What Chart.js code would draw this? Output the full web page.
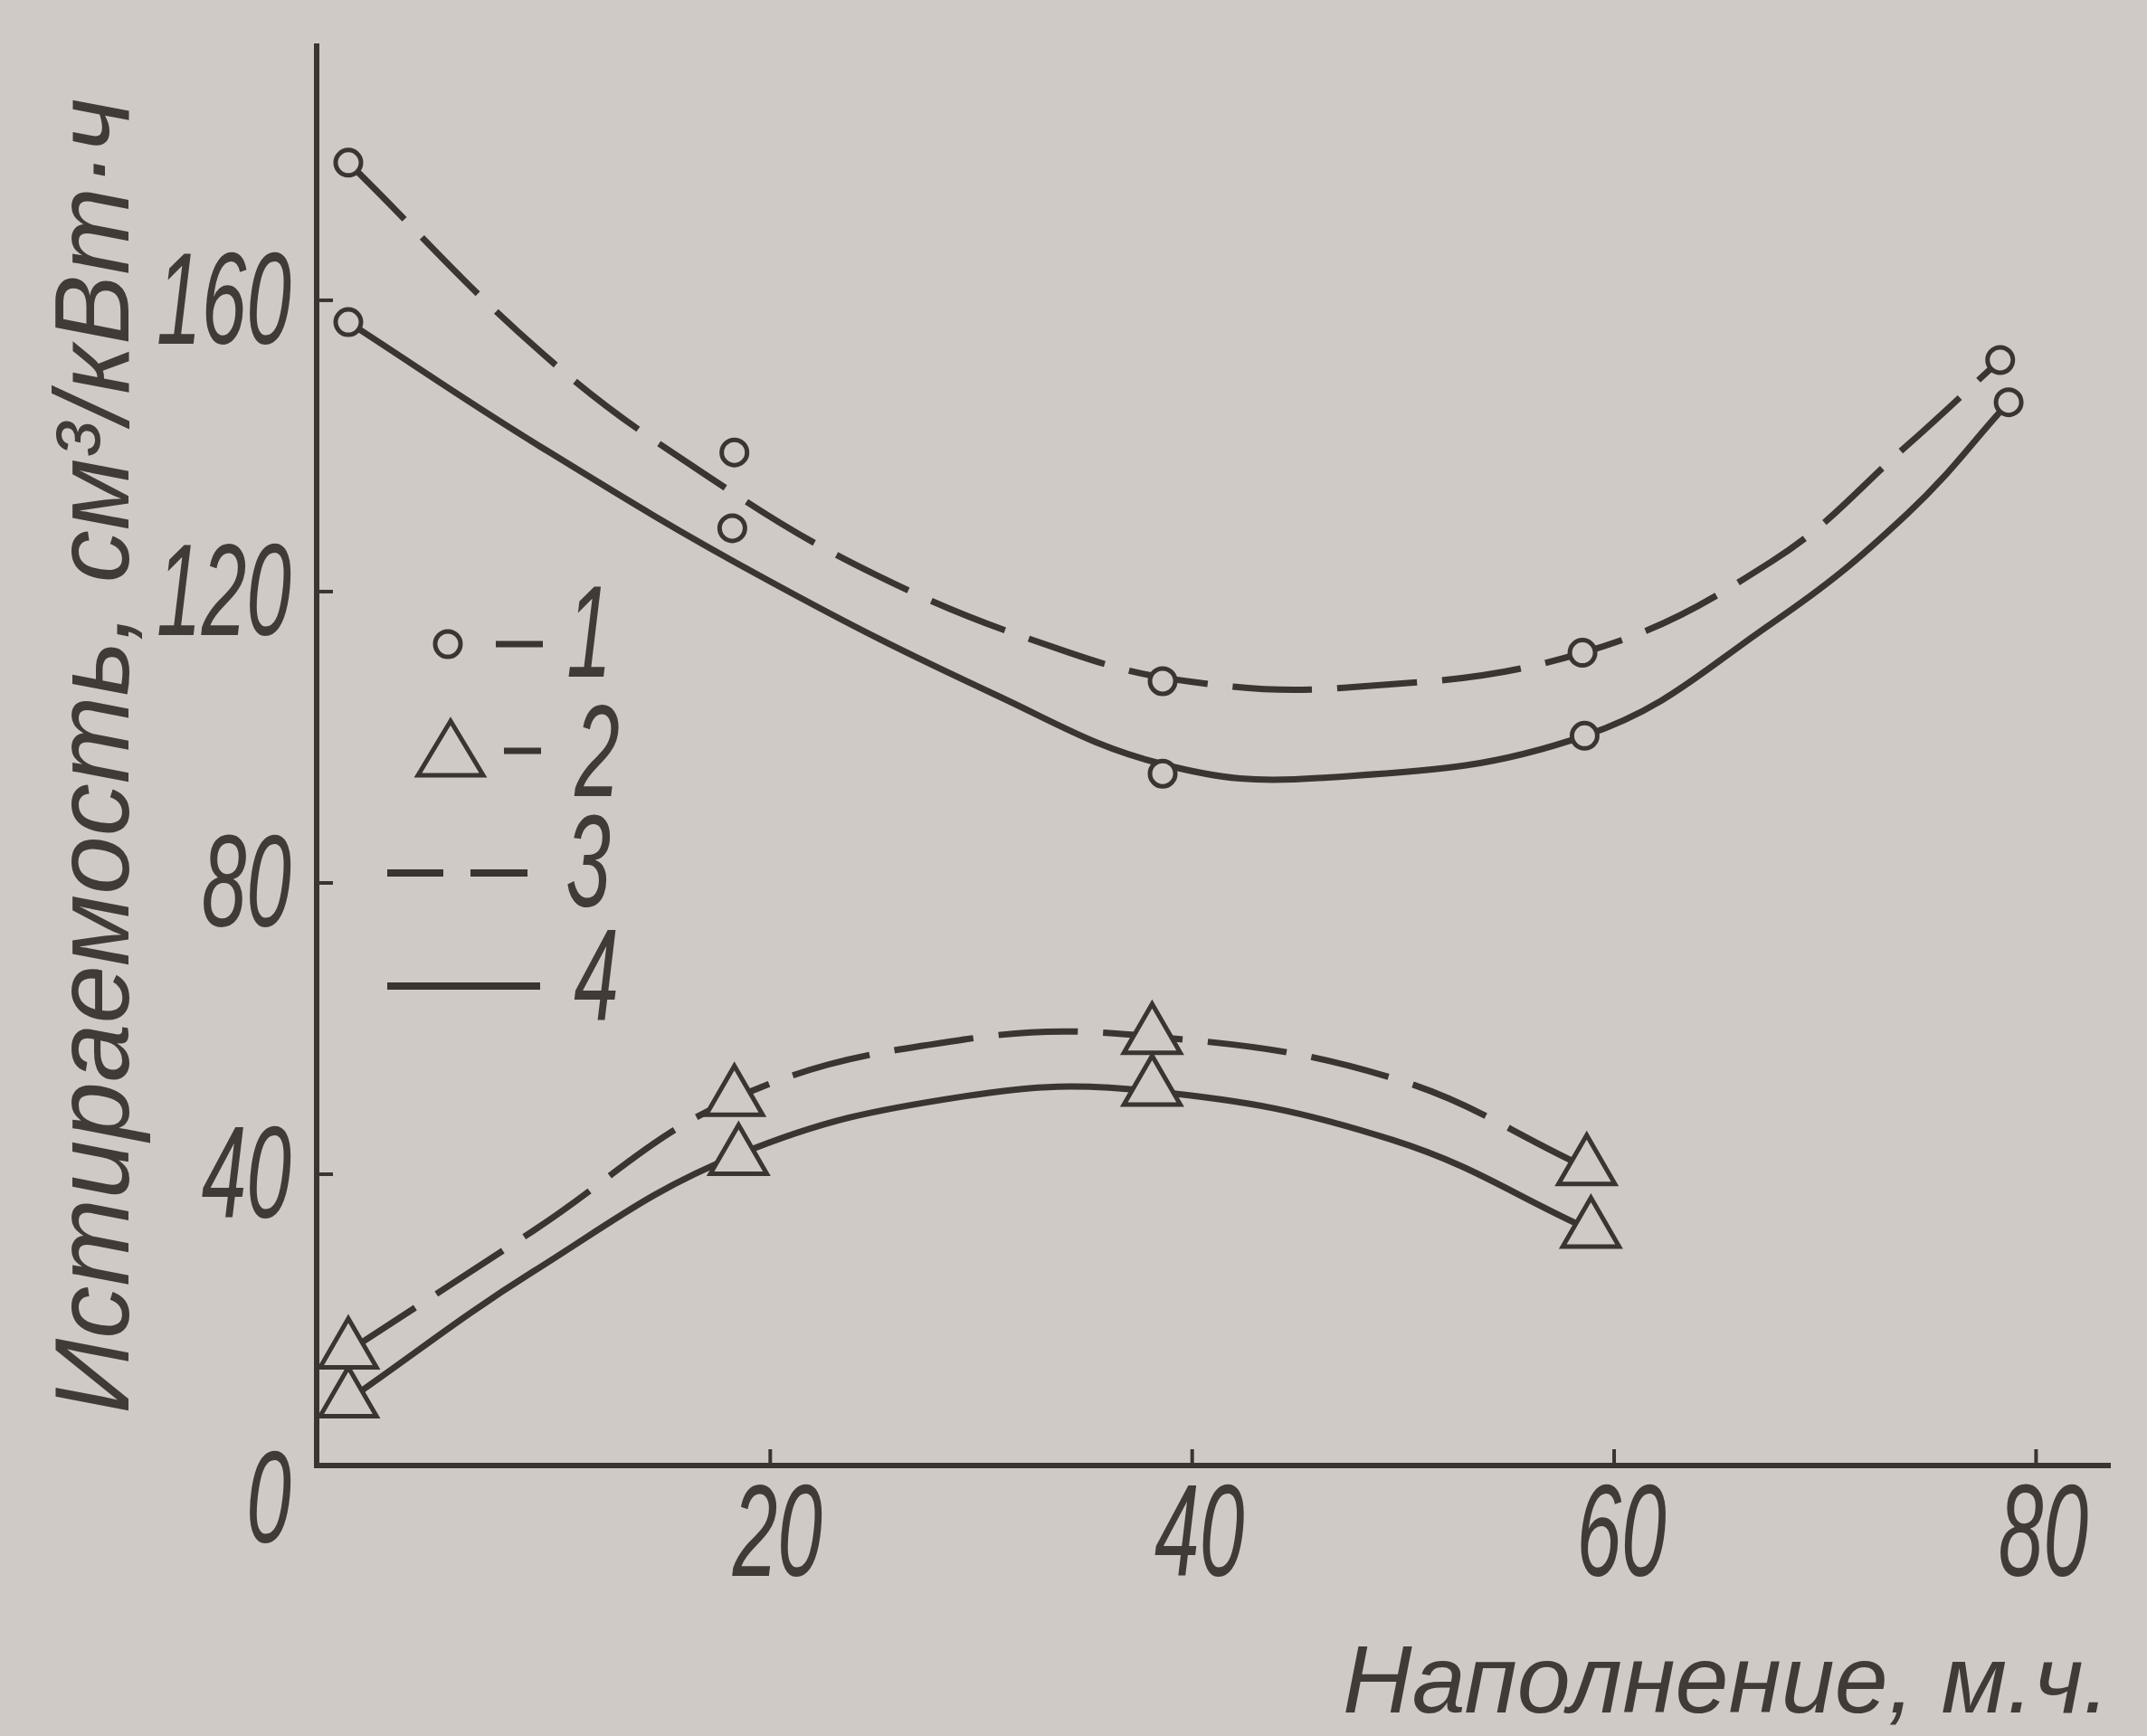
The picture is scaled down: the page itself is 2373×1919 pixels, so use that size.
<!DOCTYPE html>
<html lang="ru">
<head>
  <meta charset="UTF-8" />
  <title>Истираемость</title>
  <script src="https://cdn.jsdelivr.net/npm/chart.js"></script>
  <style>
    html, body { margin: 0; padding: 0; background: #cfcac5; overflow: hidden; }
    canvas { display: block; }
  </style>
</head>
<body>
  <canvas id="chart" width="2373" height="1919"></canvas>

  <script>
    // measured points (1 = circles, 2 = triangles; 3 = dashed curve, 4 = solid curve)
    const circX3 = [0, 18.3, 38.6, 58.5, 78.3];
    const circY3 = [178.9, 139.1, 107.7, 111.6, 151.8];
    const circX4 = [0, 18.2, 38.6, 58.6, 78.7];
    const circY4 = [157.0, 128.7, 95.0, 100.2, 146.0];
    const triX3 = [0, 18.3, 38.1, 58.7];
    const triY3 = [15.7, 50.4, 58.9, 40.9];
    const triX4 = [0, 18.5, 38.1, 58.9];
    const triY4 = [9.0, 42.3, 51.8, 32.3];

    // the drawn curves
    const upperDashX = [0, 9.2, 16.8, 25, 34.2, 40, 47.2, 58.5, 67.5, 73.9, 78.3];
    const upperDashY = [178.9, 152.7, 136.3, 122.3, 111.6, 107.6, 106.8, 111.6, 124.2, 140.1, 151.8];
    const upperSolidX = [0, 9, 19.8, 30.7, 38.6, 46, 58.6, 67.5, 73.9, 78.7];
    const upperSolidY = [157.0, 140.1, 121.7, 105.8, 96.3, 94.4, 100.2, 115.7, 130.7, 146.0];
    const lowerDashX = [0, 8.8, 18.3, 29.2, 38.1, 49.5, 58.7];
    const lowerDashY = [15.7, 32.3, 50.4, 58.5, 58.9, 53.2, 40.9];
    const lowerSolidX = [0, 8.8, 18.5, 29.2, 38.1, 49.5, 58.9];
    const lowerSolidY = [9.0, 26.7, 42.7, 50.7, 51.4, 44.7, 32.3];

    const xTicks = [20, 40, 60, 80];
    const yTicks = [0, 40, 80, 120, 160];

    const INK = '#3a3531';
    const TEXT = '#403b37';
    const PAPER = '#cfcac5';
    const DIGITS = 'italic 144px "Liberation Sans"';

    const pts = (xs, ys) => xs.map((v, i) => ({ x: v, y: ys[i] }));

    const curve = (xs, ys, dashed) => ({
      data: pts(xs, ys),
      showLine: true,
      borderColor: INK,
      borderWidth: 7,
      borderDash: dashed ? [88, 28] : [],
      borderCapStyle: 'butt',
      tension: 0.4,
      pointRadius: 0,
      order: 1
    });

    const marks = (xs, ys, style, r) => ({
      data: pts(xs, ys),
      showLine: false,
      pointStyle: style,
      pointRadius: r,
      pointBorderWidth: 5,
      pointBorderColor: INK,
      pointBackgroundColor: PAPER,
      order: 0
    });

    // draws a horizontally condensed italic number, like the drafting font
    function digits(ctx, text, x, y, align) {
      ctx.save();
      ctx.translate(x, y);
      ctx.scale(0.62, 1);
      ctx.textAlign = align;
      ctx.fillText(text, 0, 0);
      ctx.restore();
    }

    const decor = {
      id: 'decor',
      afterDraw(chart) {
        const { ctx, chartArea: a, scales: { x, y } } = chart;
        ctx.save();
        ctx.strokeStyle = INK;
        ctx.fillStyle = TEXT;

        // tick marks point into the plot
        ctx.lineWidth = 4;
        x.ticks.forEach(t => {
          const px = x.getPixelForValue(t.value);
          ctx.beginPath(); ctx.moveTo(px, a.bottom); ctx.lineTo(px, a.bottom - 18); ctx.stroke();
        });
        y.ticks.forEach(t => {
          if (t.value === 0) return;
          const py = y.getPixelForValue(t.value);
          ctx.beginPath(); ctx.moveTo(a.left, py); ctx.lineTo(a.left + 18, py); ctx.stroke();
        });

        ctx.font = DIGITS;
        ctx.textBaseline = 'middle';
        y.ticks.forEach(t => {
          const py = y.getPixelForValue(t.value) + (t.value === 0 ? 45 : 8);
          digits(ctx, String(t.value), a.left - 28, py, 'right');
        });
        x.ticks.forEach(t => {
          digits(ctx, String(t.value), x.getPixelForValue(t.value) + 8, a.bottom + 82, 'center');
        });

        // key inside the plot
        const lx = a.left, ly = a.top;
        ctx.lineWidth = 5;
        ctx.beginPath(); ctx.arc(lx + 145, ly + 661, 14, 0, Math.PI * 2); ctx.stroke();
        ctx.beginPath();
        ctx.moveTo(lx + 148, ly + 746);
        ctx.lineTo(lx + 184, ly + 806);
        ctx.lineTo(lx + 112, ly + 806);
        ctx.closePath(); ctx.stroke();

        ctx.lineWidth = 7;
        ctx.beginPath();
        ctx.moveTo(lx + 198, ly + 661); ctx.lineTo(lx + 250, ly + 661);
        ctx.moveTo(lx + 207, ly + 779); ctx.lineTo(lx + 248, ly + 779);
        ctx.stroke();
        ctx.lineWidth = 8;
        ctx.beginPath();
        ctx.moveTo(lx + 78, ly + 914); ctx.lineTo(lx + 140, ly + 914);
        ctx.moveTo(lx + 170, ly + 914); ctx.lineTo(lx + 233, ly + 914);
        ctx.moveTo(lx + 78, ly + 1039); ctx.lineTo(lx + 247, ly + 1039);
        ctx.stroke();

        digits(ctx, '1', lx + 301, ly + 657, 'center');
        digits(ctx, '2', lx + 310, ly + 789, 'center');
        digits(ctx, '3', lx + 300, ly + 911, 'center');
        digits(ctx, '4', lx + 309, ly + 1037, 'center');
        ctx.restore();
      }
    };

    const ctx = document.getElementById('chart').getContext('2d');
    const chart = new Chart(ctx, {
      type: 'scatter',
      data: {
        datasets: [
          marks(circX3, circY3, 'circle', 14),
          marks(circX4, circY4, 'circle', 14),
          marks(triX3, triY3, 'triangle', 36),
          marks(triX4, triY4, 'triangle', 36),
          curve(upperDashX, upperDashY, true),
          curve(upperSolidX, upperSolidY, false),
          curve(lowerDashX, lowerDashY, true),
          curve(lowerSolidX, lowerSolidY, false)
        ]
      },
      options: {
        responsive: false,
        animation: false,
        events: [],
        layout: { padding: { top: 51, right: 29, left: 0, bottom: 0 } },
        plugins: { legend: { display: false }, tooltip: { enabled: false } },
        scales: {
          x: {
            type: 'linear',
            min: -1.5,
            max: 83.5,
            afterBuildTicks: s => { s.ticks = xTicks.map(v => ({ value: v })); },
            afterFit: s => { s.height = 299; },
            grid: { display: false, drawTicks: false },
            border: { color: INK, width: 6 },
            ticks: { display: false },
            title: {
              display: true,
              text: 'Наполнение, м.ч.',
              align: 'end',
              color: TEXT,
              font: { family: 'Liberation Sans', style: 'italic', size: 106, lineHeight: 1 },
              padding: { top: 0, bottom: 2 }
            }
          },
          y: {
            type: 'linear',
            min: 0,
            max: 194.9,
            afterBuildTicks: s => { s.ticks = yTicks.map(v => ({ value: v })); },
            afterFit: s => { s.width = 350; },
            grid: { display: false, drawTicks: false },
            border: { color: INK, width: 6 },
            ticks: { display: false },
            title: {
              display: true,
              text: 'Истираемость, см³/кВт·ч',
              color: TEXT,
              font: { family: 'Liberation Sans', style: 'italic', size: 116, lineHeight: 1 },
              padding: { top: 52, bottom: 0 }
            }
          }
        }
      },
      plugins: [decor]
    });
  </script>
</body>
</html>
